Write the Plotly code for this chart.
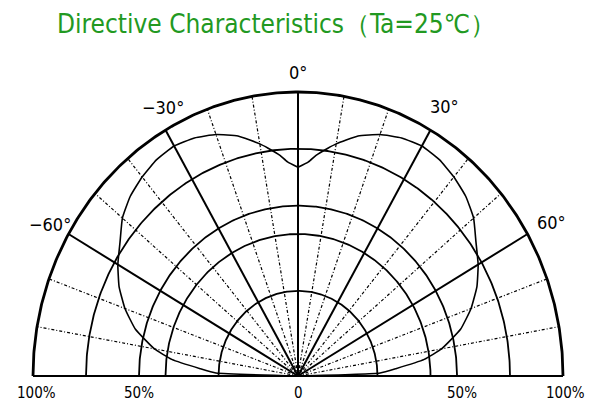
import numpy as np
import plotly.graph_objects as go

# ---- data ----
angles_deg = [-90, -88, -86, -83, -80, -75, -70, -65, -60, -55, -50, -45, -40, -35,
              -30, -25, -20, -15, -10, -8, -5, -3, 0, 3, 5, 8, 10, 15, 20, 25, 30,
              35, 40, 45, 50, 55, 60, 65, 70, 75, 80, 83, 86, 88, 90]
intensity = [0.0, 0.31, 0.37, 0.48, 0.55, 0.635, 0.695, 0.745, 0.785, 0.82, 0.865, 0.895, 0.915, 0.93,
             0.935, 0.925, 0.905, 0.875, 0.83, 0.81, 0.78, 0.755, 0.735, 0.755, 0.78, 0.81, 0.83, 0.875, 0.905, 0.925, 0.935,
             0.93, 0.915, 0.895, 0.865, 0.82, 0.785, 0.745, 0.695, 0.635, 0.55, 0.48, 0.37, 0.31, 0.0]

ring_values = [0.3, 0.5, 0.6, 0.8, 1.0]
solid_spokes = [-90, -60, -30, 0, 30, 60, 90]
dotted_spokes = [-80, -70, -50, -40, -20, -10, 10, 20, 40, 50, 70, 80]
angle_label_text = ["\u221260\u00b0", "\u221230\u00b0", "0\u00b0", "30\u00b0", "60\u00b0"]
radial_tick_text = ["100%", "50%", "0", "50%", "100%"]
title_text = "Directive Characteristics\uff08Ta=25\u2103\uff09"

# text placement (polar position of each angle label, x position of each radial label)
label_theta = [-60.4, -28.3, 0.0, 30.2, 60.5]
label_r = [1.077, 1.072, 1.067, 1.096, 1.10]
radial_label_x = [-0.985, -0.60, 0.0, 0.62, 1.01]

FONT = "DejaVu Sans Condensed, DejaVu Sans, sans-serif"

# the page body has an 8px margin, so the figure is sized to fill the rest of the window
W, H = 591, 396


def to_xy(theta_deg, r):
    t = np.radians(np.asarray(theta_deg, dtype=float))
    r = np.asarray(r, dtype=float)
    return r * np.sin(t), r * np.cos(t)


fig = go.Figure()

# rings
sweep = np.linspace(-90, 90, 361)
for rv in ring_values:
    x, y = to_xy(sweep, np.full_like(sweep, rv))
    fig.add_trace(go.Scatter(x=x, y=y, mode="lines", hoverinfo="skip", showlegend=False,
                             line=dict(color="black", width=2.8 if rv == 1.0 else 1.8)))

# dotted spokes
for a in dotted_spokes:
    x, y = to_xy([a, a], [0, 1])
    fig.add_trace(go.Scatter(x=x, y=y, mode="lines", hoverinfo="skip", showlegend=False,
                             line=dict(color="black", width=1.2, dash="3px,2px,1px,2px")))

# solid spokes
for a in solid_spokes:
    x, y = to_xy([a, a], [0, 1])
    fig.add_trace(go.Scatter(x=x, y=y, mode="lines", hoverinfo="skip", showlegend=False,
                             line=dict(color="black", width=2.0)))

# data curve: two lobes meeting in a cusp at 0 degrees
mid = angles_deg.index(0)
for sl in (slice(0, mid + 1), slice(mid, len(angles_deg))):
    x, y = to_xy(angles_deg[sl], intensity[sl])
    fig.add_trace(go.Scatter(x=x, y=y, mode="lines", showlegend=False,
                             line=dict(color="black", width=1.6, shape="spline", smoothing=0.4)))

# angle labels
lx, ly = to_xy(label_theta, label_r)
for xx, yy, tt in zip(lx, ly, angle_label_text):
    fig.add_annotation(x=xx, y=yy, text=tt, showarrow=False, xref="x", yref="y",
                       xanchor="center", yanchor="middle",
                       font=dict(family=FONT, size=18, color="black"))

# radial labels under the baseline
for xx, tt in zip(radial_label_x, radial_tick_text):
    fig.add_annotation(x=xx, y=-0.06, text=tt, showarrow=False, xref="x", yref="y",
                       xanchor="center", yanchor="middle",
                       font=dict(family=FONT, size=15, color="black"))

# title
fig.add_annotation(x=268 / W, y=1 - 16 / H, xref="paper", yref="paper", text=title_text,
                   xanchor="center", yanchor="middle",
                   showarrow=False, font=dict(family=FONT, size=26, color="#229922"))

x0 = -1 - 25 / 265
y1 = 1 + 84 / 284
fig.update_layout(
    width=W, height=H,
    margin=dict(l=0, r=0, t=0, b=0),
    paper_bgcolor="white", plot_bgcolor="white",
    xaxis=dict(range=[x0, x0 + W / 265], showgrid=False, zeroline=False, showline=False,
               showticklabels=False, ticks="", fixedrange=True),
    yaxis=dict(range=[y1 - H / 284, y1], showgrid=False, zeroline=False, showline=False,
               showticklabels=False, ticks="", fixedrange=True),
)

fig.write_html("out.html")
